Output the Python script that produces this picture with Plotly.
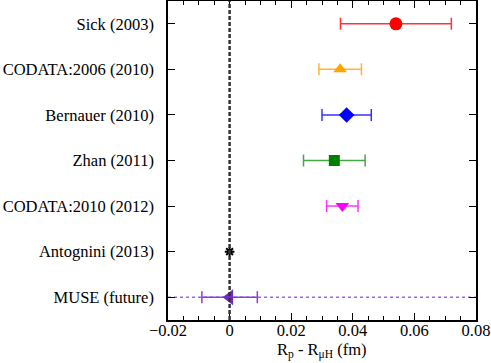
import plotly.graph_objects as go

# data: difference from muonic hydrogen radius (fm)
labels = ["Sick (2003)", "CODATA:2006 (2010)", "Bernauer (2010)", "Zhan (2011)",
          "CODATA:2010 (2012)", "Antognini (2013)", "MUSE (future)"]
diff = [0.054, 0.0359, 0.038, 0.034, 0.0366, 0.0, 0.0]
err = [0.018, 0.0069, 0.008, 0.010, 0.0051, 0.0004, 0.009]
colors = ["#ff0000", "#ffa500", "#0000ff", "#008000", "#ff00ff", "#000000", "#7428c8"]
bar_colors = ["#ff3333", "#ffb433", "#3333ff", "#44a844", "#ff33ff", "#000000", "#8a3fd6"]
symbols = ["circle", "triangle-up", "diamond", "square", "triangle-down", "asterisk", "triangle-left"]
sizes = [13, 12, 12, 11, 12, 8, 14]

xmin, xmax = -0.02, 0.08
font = "Liberation Serif, Times New Roman, serif"

fig = go.Figure()

# MUSE dotted line across the whole range
fig.add_trace(go.Scatter(
    x=[xmin, xmax], y=[labels[-1], labels[-1]], mode="lines",
    line=dict(color="#a066e0", width=1.5, dash="dot"), hoverinfo="skip",
))

# zero line (dashed)
fig.add_shape(type="line", x0=0, x1=0, y0=0, y1=1, yref="paper",
              line=dict(color="#333333", width=2.5, dash="4px,2px"), layer="above")

for i in range(len(labels)):
    fig.add_trace(go.Scatter(
        x=[diff[i]], y=[labels[i]], mode="markers",
        marker=dict(symbol=symbols[i], size=sizes[i], color=colors[i],
                    line=dict(width=2 if symbols[i] == "asterisk" else 0, color=colors[i])),
        error_x=dict(type="data", array=[err[i]], color=bar_colors[i],
                     thickness=1.5, width=6, visible=symbols[i] != "asterisk"),
        cliponaxis=False,
    ))

# x axis title as annotation so it sits close to the tick labels
fig.add_annotation(
    text="R<sub>p</sub> - R<sub>μH</sub> (fm)", xref="paper", yref="paper",
    x=0.5, y=-0.055, xanchor="center", yanchor="top", showarrow=False,
    font=dict(family=font, size=16.5),
)

fig.update_layout(
    width=491, height=363,
    margin=dict(l=168, r=15, t=1, b=43),
    plot_bgcolor="white", paper_bgcolor="white",
    showlegend=False,
    font=dict(family=font, size=16.5, color="black"),
    xaxis=dict(
        range=[xmin, xmax], dtick=0.02, tick0=0, tickformat="~g",
        ticks="inside", ticklen=7, tickwidth=1, tickcolor="black",
        minor=dict(dtick=0.005, ticks="inside", ticklen=4, tickcolor="black"),
        showline=True, linecolor="black", linewidth=1.5, mirror="allticks",
        showgrid=False, zeroline=False, automargin=False, ticklabelstandoff=-6,
    ),
    yaxis=dict(
        categoryorder="array", categoryarray=labels[::-1],
        range=[-0.5, 6.5], automargin=False,
        ticks="inside", ticklen=7, tickwidth=1, tickcolor="black",
        showline=True, linecolor="black", linewidth=1.5, mirror="allticks",
        showgrid=False, zeroline=False, ticklabelstandoff=9,
    ),
)

fig.write_html("out.html", config={"displayModeBar": False},
               post_script="document.body.style.margin='0';")
